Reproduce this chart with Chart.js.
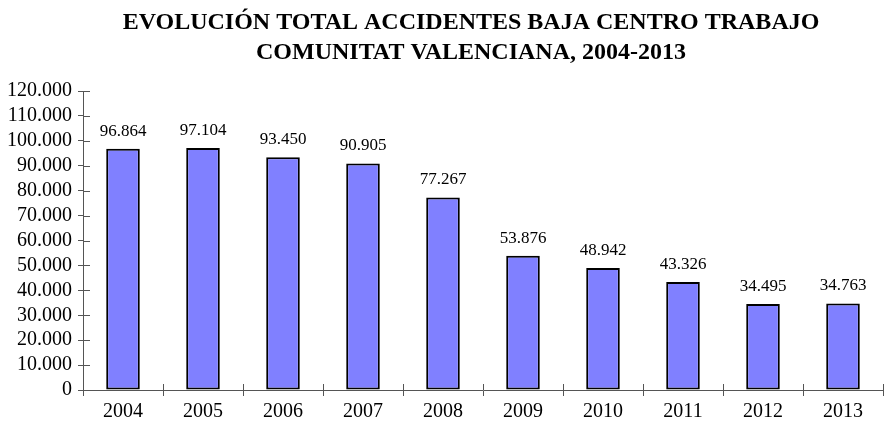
<!DOCTYPE html>
<html>
<head>
<meta charset="utf-8">
<script src="https://cdn.jsdelivr.net/npm/chart.js@4/dist/chart.umd.min.js"></script>
<style>
  html, body { margin: 0; padding: 0; background: #fff; }
  #wrap { width: 884px; height: 427px; }
</style>
</head>
<body>
<div id="wrap"><canvas id="chart"></canvas></div>
<script>
// datos
const years = ['2004', '2005', '2006', '2007', '2008', '2009', '2010', '2011', '2012', '2013'];
const accidents = [96864, 97104, 93450, 90905, 77267, 53876, 48942, 43326, 34495, 34763];
const titleLines = ['EVOLUCIÓN TOTAL ACCIDENTES BAJA CENTRO TRABAJO', 'COMUNITAT VALENCIANA, 2004-2013'];

const fmt = v => String(v).replace(/\B(?=(\d{3})+(?!\d))/g, '.');
const serif = '"Liberation Serif", "Times New Roman", serif';

// título (centrado algo a la derecha, como en el original)
const titleBlock = {
  id: 'titleBlock',
  afterDraw(chart) {
    const ctx = chart.ctx;
    ctx.save();
    ctx.font = 'bold 24px ' + serif;
    ctx.fillStyle = '#000';
    ctx.textAlign = 'center';
    ctx.textBaseline = 'middle';
    titleLines.forEach((line, i) => ctx.fillText(line, 471, 23 + i * 30));
    ctx.restore();
  }
};

// etiquetas encima de cada barra
const barLabels = {
  id: 'barLabels',
  afterDatasetsDraw(chart) {
    const ctx = chart.ctx;
    const meta = chart.getDatasetMeta(0);
    ctx.save();
    ctx.font = '17px ' + serif;
    ctx.fillStyle = '#000';
    ctx.textAlign = 'center';
    ctx.textBaseline = 'bottom';
    meta.data.forEach((bar, i) => {
      ctx.fillText(fmt(accidents[i]), bar.x, bar.y - 9);
    });
    ctx.restore();
  }
};

// marcas que cruzan los ejes
const innerTicks = {
  id: 'innerTicks',
  afterDraw(chart) {
    const { ctx, chartArea, scales } = chart;
    ctx.save();
    ctx.strokeStyle = '#555';
    ctx.lineWidth = 1;
    ctx.beginPath();
    scales.y.ticks.forEach((t, i) => {
      const y = Math.round(scales.y.getPixelForTick(i)) + 0.5;
      ctx.moveTo(chartArea.left, y);
      ctx.lineTo(chartArea.left + 7, y);
    });
    for (let i = 1; i <= years.length; i++) {
      const x = Math.round(chartArea.left + i * (chartArea.right - chartArea.left) / years.length) + 0.5;
      ctx.moveTo(x, chartArea.bottom);
      ctx.lineTo(x, chartArea.bottom - 6);
    }
    ctx.stroke();
    ctx.restore();
  }
};

new Chart(document.getElementById('chart'), {
  type: 'bar',
  data: {
    labels: years,
    datasets: [{
      data: accidents,
      backgroundColor: '#8080FF',
      borderColor: '#000',
      borderWidth: 2,
      borderSkipped: false,
      barPercentage: 0.42,
      categoryPercentage: 1
    }]
  },
  options: {
    responsive: true,
    maintainAspectRatio: false,
    animation: false,
    layout: { padding: { top: 91, right: 1, left: 0, bottom: 0 } },
    plugins: {
      legend: { display: false },
      tooltip: { enabled: false },
      title: { display: false }
    },
    scales: {
      x: {
        offset: true,
        grid: { offset: true, drawOnChartArea: false, tickLength: 6, color: '#555' },
        border: { color: '#555', width: 1 },
        ticks: { color: '#000', font: { family: serif, size: 20 }, padding: 4 },
        afterFit(scale) { scale.height = 37; }
      },
      y: {
        min: 0,
        max: 120000,
        grid: { drawOnChartArea: false, tickLength: 5, color: '#555' },
        border: { color: '#555', width: 1 },
        ticks: {
          stepSize: 10000,
          autoSkip: false,
          color: '#000',
          font: { family: serif, size: 20 },
          padding: 6,
          callback: v => fmt(v)
        },
        afterFit(scale) { scale.width = 83; }
      }
    }
  },
  plugins: [titleBlock, barLabels, innerTicks]
});
</script>
</body>
</html>
